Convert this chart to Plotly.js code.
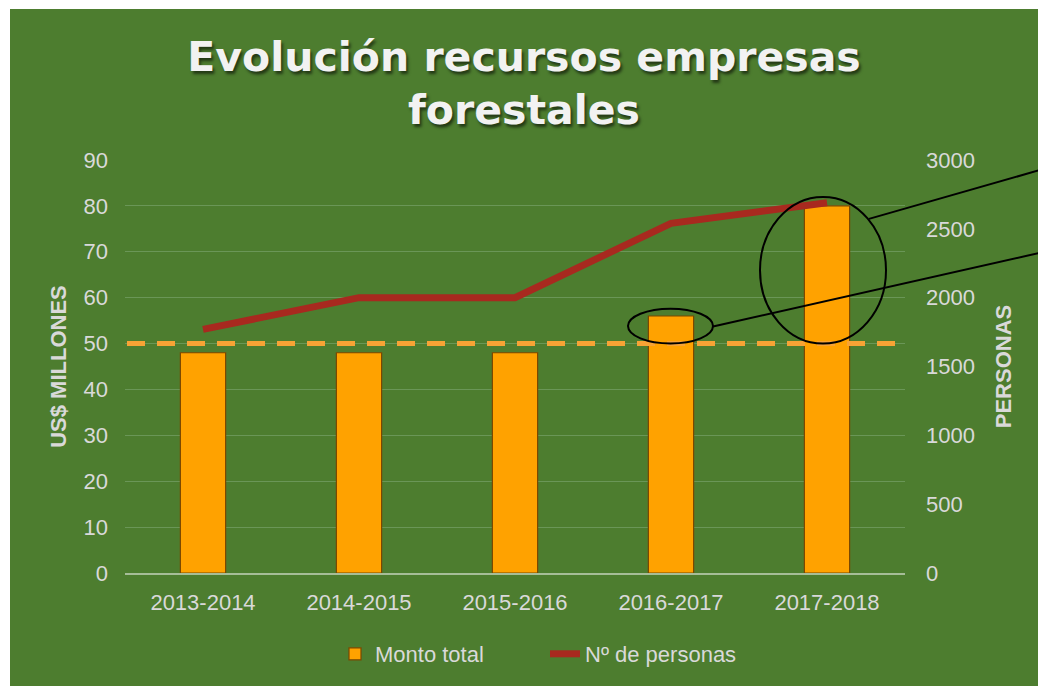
<!DOCTYPE html>
<html>
<head>
<meta charset="utf-8">
<script src="https://cdn.plot.ly/plotly-3.0.1.min.js"></script>
<style>
html,body{margin:0;padding:0;background:#ffffff;}
#chart{position:absolute;left:10px;top:9px;width:1028px;height:677px;}
</style>
</head>
<body>
<div id="chart"></div>
<script>
// ---- data ----
var categories = ["2013-2014", "2014-2015", "2015-2016", "2016-2017", "2017-2018"];
var montoTotal = [48, 48, 48, 56, 80];            // US$ millones
var numPersonas = [1770, 2000, 2000, 2540, 2690];  // personas
var referenceLevel = 50;                           // dashed reference line (US$ millones)

var titleText = "Evolución recursos empresas<br>forestales";
var leftAxisTitle = "US$ MILLONES";
var rightAxisTitle = "PERSONAS";
var barName = "Monto total";
var lineName = "Nº de personas";

// ---- geometry helpers (page px -> paper) for callout decorations ----
var PL = 125, PW = 780, PB = 574, PH = 414;
function px(x){ return (x - PL) / PW; }
function py(y){ return (PB - y) / PH; }

var textColor = "#d9d9d9";
var bg = "#4d7d2f";

var traces = [
  {
    type: "bar",
    name: barName,
    x: categories,
    y: montoTotal,
    width: 0.29,
    marker: {
      color: "#ffa200",
      line: {color: "#7a4800", width: 1.2}
    },
    yaxis: "y"
  },
  {
    type: "scatter",
    mode: "lines",
    name: lineName,
    x: categories,
    y: numPersonas,
    line: {color: "#a8291f", width: 7},
    yaxis: "y2"
  }
];

var shapes = [
  // dashed reference line
  {type: "line", xref: "paper", yref: "y", x0: px(127), x1: px(898), y0: referenceLevel, y1: referenceLevel,
   line: {color: "#f7a335", width: 5, dash: "18px,12px"}, layer: "above"},
  // small ellipse
  {type: "circle", xref: "paper", yref: "paper", x0: px(628), x1: px(713), y0: py(309), y1: py(344),
   line: {color: "#000000", width: 2}},
  // big ellipse
  {type: "circle", xref: "paper", yref: "paper", x0: px(760), x1: px(886), y0: py(197), y1: py(344),
   line: {color: "#000000", width: 2}},
  // callout lines
  {type: "line", xref: "paper", yref: "paper", x0: px(869), y0: py(219), x1: px(1040), y1: py(170),
   line: {color: "#000000", width: 2}},
  {type: "line", xref: "paper", yref: "paper", x0: px(713), y0: py(327), x1: px(1040), y1: py(253),
   line: {color: "#000000", width: 2}}
];

var layout = {
  width: 1028,
  height: 677,
  paper_bgcolor: bg,
  plot_bgcolor: bg,
  margin: {l: 115, r: 133, t: 151, b: 112, pad: 0},
  font: {family: "Liberation Sans, Arial, sans-serif", size: 22, color: textColor},
  title: {
    text: titleText,
    font: {family: "DejaVu Sans, Liberation Sans, Arial", size: 41, color: "#f2f2f2", weight: "bold",
           shadow: "2px 3px 3px rgba(0,0,0,0.55)"},
    x: 0.5, xanchor: "center",
    y: 1 - 62/677, yref: "container", yanchor: "middle"
  },
  showlegend: true,
  legend: {
    orientation: "h",
    x: px(545), xanchor: "center",
    y: py(654), yanchor: "middle",
    font: {size: 22, color: textColor},
    bgcolor: "rgba(0,0,0,0)",
    traceorder: "normal",
    entrywidth: 165
  },
  xaxis: {
    type: "category",
    showgrid: false,
    showline: true,
    linecolor: "#a6bd98",
    linewidth: 2,
    ticks: "",
    ticklabelstandoff: 9,
    tickfont: {size: 22, color: textColor},
    zeroline: false
  },
  yaxis: {
    range: [0, 90],
    dtick: 10,
    showgrid: true,
    gridcolor: "#6a9657",
    gridwidth: 1,
    zeroline: false,
    showline: false,
    ticks: "",
    ticklabelstandoff: 16,
    tickfont: {size: 22, color: textColor},
    title: {text: leftAxisTitle, font: {size: 22, color: textColor, weight: "bold"}, standoff: 10}
  },
  yaxis2: {
    range: [0, 3000],
    dtick: 500,
    overlaying: "y",
    side: "right",
    showgrid: false,
    zeroline: false,
    showline: false,
    ticks: "",
    ticklabelstandoff: 20,
    tickfont: {size: 22, color: textColor},
    title: {text: rightAxisTitle, font: {size: 22, color: textColor, weight: "bold"}, standoff: 21}
  },
  shapes: shapes
};

Plotly.newPlot("chart", traces, layout, {displayModeBar: false, staticPlot: true});
</script>
</body>
</html>
